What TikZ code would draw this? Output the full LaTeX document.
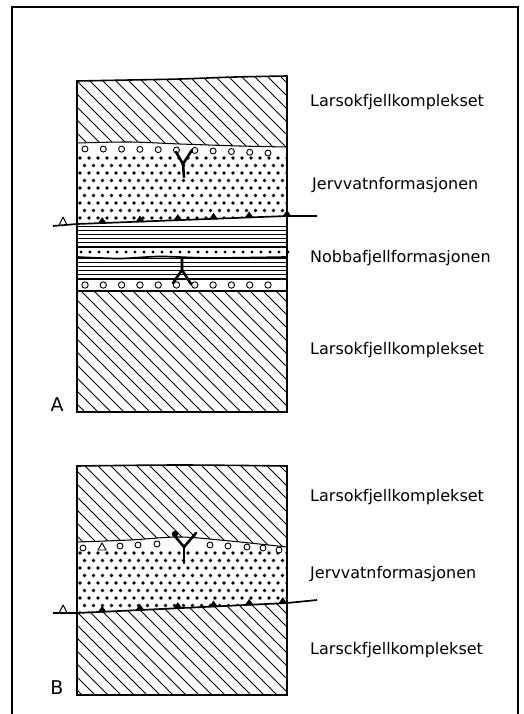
\documentclass[tikz,border=0pt]{standalone}
\usepackage{fontspec}
\usepackage{tikz}
\usetikzlibrary{calc}
\setsansfont{DejaVu Sans}

\tikzset{
    hatch/.style={line width=1.05pt},
    outline/.style={line width=1.6pt},
    thrust/.style={line width=1.7pt},
    pebble/.style={line width=0.9pt,fill=white},
    feeder/.style={line width=2.6pt,line cap=round,line join=round},
    unitname/.style={font=\sffamily\fontsize{16}{19}\selectfont,anchor=west,inner sep=0pt},
    secname/.style={font=\sffamily\fontsize{19}{22}\selectfont,inner sep=0pt}
}

\begin{document}
\begin{tikzpicture}[x=1pt,y=-1pt]
        \useasboundingbox (0,0) rectangle (523,714);
        \draw[outline] (12,714) -- (12,7) -- (518,7) -- (518,714);

        % profile A
        \coordinate (ta1) at (53,226);
        \coordinate (ta2) at (77,224);
        \coordinate (ta3) at (287,216);
        \coordinate (ta4) at (317,216);

        \begin{scope}
            \clip plot[smooth] coordinates {(77,81) (130,80) (180,79) (235,77) (287,76)}
                -- plot[smooth] coordinates {(287,147) (240,146) (180,144) (130,142) (77,143)} -- cycle;
            \foreach \i in {-90,-77,...,300}
                \draw[hatch] (\i,70) -- ++(250,250);
        \end{scope}
        \begin{scope}
            \clip plot[smooth] coordinates {(77,143) (130,142) (180,144) (240,146) (287,147)}
                -- (ta3) -- (ta2) -- cycle;
            \foreach \r in {0,...,10}
                \foreach \c in {0,...,24}
                    \fill ({80+9*\c+mod(\r,2)*4.5},{158+7.5*\r}) circle[radius=1.9pt];
            \foreach \c in {0,...,10}
                \draw[pebble] ({85+18.3*\c},{149+0.04*\c*\c}) circle[radius=3pt];
        \end{scope}
        \draw[hatch] plot[smooth] coordinates {(77,143) (130,142) (180,144) (240,146) (287,147)};

        \begin{scope}
            \clip (ta2) -- (ta3) -- (287,279) -- (77,279) -- cycle;
            \foreach \y in {226,230,...,278}
                \draw[line width=0.9pt] (77,\y) -- (287,\y);
        \end{scope}
        \fill[white] (77,247) rectangle (287,257);
        \draw[line width=1.1pt] (77,247) -- (287,247);
        \foreach \c in {0,...,23}
            \fill ({81+9*\c},252) circle[radius=1.7pt];
        \draw[thrust] plot[smooth] coordinates {(77,257) (120,258.5) (160,256.5) (210,258) (287,257)};

        \fill[white] (77,279) rectangle (287,291);
        \draw[line width=1pt] (77,279) -- (287,279);
        \foreach \c in {0,...,10}
            \draw[pebble] ({85+18.3*\c},285) circle[radius=3.2pt];

        \begin{scope}
            \clip (77,291) rectangle (287,412);
            \foreach \i in {-140,-127,...,300}
                \draw[hatch] (\i,291) -- ++(250,250);
        \end{scope}
        \draw[hatch] (77,291) -- (287,291);

        \draw[feeder] (176,152) -- (183,164) -- (192,150);
        \draw[feeder] (183,164) -- (184,177);
        \draw[feeder] (182,258) -- (182,270) -- (173,283);
        \draw[feeder] (182,270) -- (191,284);

        \draw[outline] plot[smooth] coordinates {(77,81) (130,80) (180,79) (235,77) (287,76)}
            -- (287,412) -- (77,412) -- cycle;

        \draw[thrust] (ta1) -- (ta2) -- (ta3) -- (ta4);
        \foreach \t in {0.12,0.30,0.48,0.65,0.82,1.0}
            \fill ($(ta2)!\t!(ta3)$) ++(-4.5,0.5) -- ++(4.5,-6.5) -- ++(4.5,6.5) -- cycle;
        \draw[line width=1pt,line join=round] ($(ta1)!0.42!(ta2)$) ++(-4,0) -- ++(4,-8) -- ++(4,8);

        % profile B
        \coordinate (tb1) at (53,613);
        \coordinate (tb2) at (77,613);
        \coordinate (tb3) at (287,603);
        \coordinate (tb4) at (317,600);

        \begin{scope}
            \clip plot[smooth] coordinates {(77,466) (180,465) (287,466)}
                -- plot[smooth] coordinates {(287,547) (230,541) (180,537) (130,540) (77,542)} -- cycle;
            \foreach \i in {-90,-77,...,300}
                \draw[hatch] (\i,460) -- ++(250,250);
        \end{scope}
        \begin{scope}
            \clip plot[smooth] coordinates {(77,542) (130,540) (180,537) (230,541) (287,547)}
                -- (tb3) -- (tb2) -- cycle;
            \foreach \r in {0,...,9}
                \foreach \c in {0,...,24}
                    \fill ({80+9*\c+mod(\r,2)*4.5},{553+7.5*\r}) circle[radius=1.9pt];
            \foreach \x/\y in {83/548,120/546,138/545,157/544,210/545,228/546,247/547,263/548,279/550}
                \draw[pebble] (\x,\y) circle[radius=3pt];
            \draw[line width=0.9pt,fill=white] (98,550) -- (102,543) -- (106,550) -- cycle;
        \end{scope}
        \draw[hatch] plot[smooth] coordinates {(77,542) (130,540) (180,537) (230,541) (287,547)};

        \begin{scope}
            \clip (tb2) -- (tb3) -- (287,695) -- (77,695) -- cycle;
            \foreach \i in {-200,-187,...,300}
                \draw[hatch] (\i,595) -- ++(250,250);
        \end{scope}

        \draw[feeder] (174,535) -- (184,547) -- (196,533);
        \draw[feeder] (184,547) -- (184,563);
        \fill (175,534) circle[radius=3.2pt];

        \draw[outline] plot[smooth] coordinates {(77,466) (180,465) (287,466)}
            -- (287,695) -- (77,695) -- cycle;

        \draw[thrust] (tb1) -- (tb2) -- (tb3) -- (tb4);
        \foreach \t in {0.12,0.30,0.48,0.65,0.82,0.98}
            \fill ($(tb2)!\t!(tb3)$) ++(-4.5,0.5) -- ++(4.5,-6.5) -- ++(4.5,6.5) -- cycle;
        \draw[line width=1pt,line join=round] ($(tb1)!0.42!(tb2)$) ++(-4,0) -- ++(4,-8) -- ++(4,8);

        % unit names
        \node[unitname] (larsA1) at (310,102) {Larsokfjellkomplekset};
        \node[unitname] (jervA) at (312,185) {Jervvatnformasjonen};
        \node[unitname] (nobbA) at (310,258) {Nobbafjellformasjonen};
        \node[unitname] (larsA2) at (310,350) {Larsokfjellkomplekset};
        \node[secname] (secA) at (57,405) {A};

        \node[unitname] (larsB1) at (310,497) {Larsokfjellkomplekset};
        \node[unitname] (jervB) at (310,574) {Jervvatnformasjonen};
        \node[unitname] (larsB2) at (310,650) {Larsckfjellkomplekset};
        \node[secname] (secB) at (57,688) {B};
\end{tikzpicture}
\end{document}
